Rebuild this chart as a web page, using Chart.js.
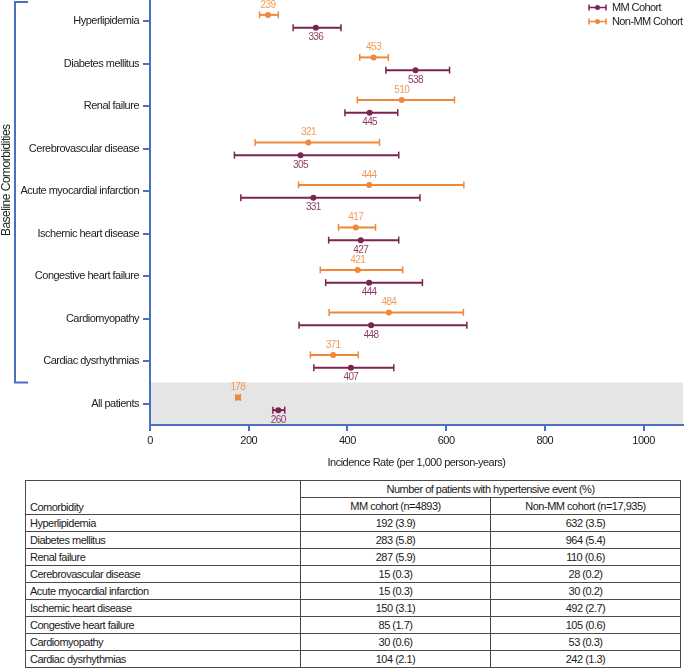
<!DOCTYPE html>
<html>
<head>
<meta charset="utf-8">
<script src="https://cdn.jsdelivr.net/npm/chart.js@4"></script>
<style>
  body { margin: 0; background: #fff; }
  #wrap { position: relative; width: 685px; height: 669px; }
  #chartBox { position: absolute; left: 0; top: 0; width: 685px; height: 470px; }
  #tbl {
    position: absolute; left: 25px; top: 480px; width: 655px;
    border-collapse: collapse; table-layout: fixed;
    font-family: "Liberation Sans", Arial, sans-serif;
    font-size: 11px; letter-spacing: -0.5px; color: #1a1a1a;
  }
  #tbl td { border: 1px solid #4a4a4a; padding: 0 4px; height: 16px; line-height: 14px; white-space: nowrap; }
  #tbl td.c { text-align: center; }
</style>
</head>
<body>
<div id="wrap">
  <div id="chartBox"><canvas id="chart"></canvas></div>
  <table id="tbl">
    <colgroup><col style="width:275px"><col style="width:190px"><col style="width:190px"></colgroup>
  </table>
</div>
<script>
// forest plot: incidence rate with 95% CI
const categories = ["Hyperlipidemia", "Diabetes mellitus", "Renal failure", "Cerebrovascular disease",
  "Acute myocardial infarction", "Ischemic heart disease", "Congestive heart failure",
  "Cardiomyopathy", "Cardiac dysrhythmias", "All patients"];
const seriesNames = ["MM Cohort", "Non-MM Cohort"];
const mmRate = [336, 538, 445, 305, 331, 427, 444, 448, 407, 260];
const mmLow = [290, 478, 395, 171, 184, 362, 356, 302, 332, 249];
const mmHigh = [387, 607, 502, 504, 547, 504, 552, 642, 494, 273];
const nonMmRate = [239, 453, 510, 321, 444, 417, 421, 484, 371, 178];
const nonMmLow = [222, 425, 420, 213, 301, 382, 345, 363, 325, 174];
const nonMmHigh = [260, 483, 617, 465, 636, 457, 512, 635, 422, 183];
const xTicks = [0, 200, 400, 600, 800, 1000];
const xTitle = "Incidence Rate (per 1,000 person-years)";
const yTitle = "Baseline Comorbidities";

// table under the plot
const tableHeader = ["Comorbidity", "Number of patients with hypertensive event (%)", "MM cohort (n=4893)", "Non-MM cohort (n=17,935)"];
const tableRows = categories.slice(0, 9);
const mmEvents = [192, 283, 287, 15, 15, 150, 85, 30, 104];
const mmPct = ["3.9", "5.8", "5.9", "0.3", "0.3", "3.1", "1.7", "0.6", "2.1"];
const nonMmEvents = [632, 964, 110, 28, 30, 492, 105, 53, 242];
const nonMmPct = ["3.5", "5.4", "0.6", "0.2", "0.2", "2.7", "0.6", "0.3", "1.3"];

const FONT = '"Liberation Sans", Arial, sans-serif';
const MM_COLOR = "#7b2352";
const NON_COLOR = "#f0883b";
const BLUE = "#4a70c0";

const allIdx = categories.length - 1;

const errorBars = {
  id: "errorBars",
  beforeDraw(chart) {
    const { ctx, chartArea, scales } = chart;
    ctx.letterSpacing = "-0.5px"; // narrow look for axis text
    const y0 = scales.y.getPixelForValue(allIdx - 0.5);
    ctx.save();
    ctx.fillStyle = "#e5e5e5";
    ctx.fillRect(chartArea.left, y0, chartArea.right - chartArea.left, chartArea.bottom - y0);
    ctx.restore();
  },
  afterDatasetsDraw(chart) {
    const ctx = chart.ctx;
    const xs = chart.scales.x;
    chart.data.datasets.forEach((ds, di) => {
      const meta = chart.getDatasetMeta(di);
      meta.data.forEach((bar, i) => {
        const y = bar.y;
        ctx.save();
        ctx.strokeStyle = ds.backgroundColor;
        ctx.lineWidth = 1.5;
        [bar.base, bar.x].forEach((px) => {
          ctx.beginPath();
          ctx.moveTo(px, y - 3.5);
          ctx.lineTo(px, y + 3.5);
          ctx.stroke();
        });
        const cx = xs.getPixelForValue(ds.rates[i]);
        ctx.fillStyle = ds.backgroundColor;
        ctx.beginPath();
        ctx.arc(cx, y, 3, 0, Math.PI * 2);
        ctx.fill();
        ctx.fillStyle = ds.labelColor;
        ctx.font = "10px " + FONT;
        ctx.letterSpacing = "-0.6px";
        ctx.textAlign = "center";
        ctx.textBaseline = "middle";
        ctx.fillText(String(ds.rates[i]), cx, y + ds.labelSide * 10);
        ctx.restore();
      });
    });
  },
  afterDraw(chart) {
    const { ctx, chartArea, scales } = chart;
    // bracket + title on the left
    const top = Math.max(chartArea.top, 0) + 2;
    const bot = scales.y.getPixelForValue(allIdx - 0.5);
    ctx.save();
    ctx.strokeStyle = BLUE;
    ctx.lineWidth = 2;
    ctx.beginPath();
    ctx.moveTo(28, top);
    ctx.lineTo(15, top);
    ctx.lineTo(15, bot);
    ctx.lineTo(28, bot);
    ctx.stroke();
    ctx.translate(7, (top + bot) / 2 - 12);
    ctx.rotate(-Math.PI / 2);
    ctx.fillStyle = "#222";
    ctx.font = "12px " + FONT;
    ctx.letterSpacing = "-0.5px";
    ctx.textAlign = "center";
    ctx.textBaseline = "middle";
    ctx.fillText(yTitle, 0, 0);
    ctx.restore();

    // legend, top right
    const order = [1, 0];
    order.forEach((di, k) => {
      const ds = chart.data.datasets[di];
      const ly = 7.5 + k * 14;
      const lx = chartArea.right - 94;
      ctx.save();
      ctx.strokeStyle = ds.backgroundColor;
      ctx.fillStyle = ds.backgroundColor;
      ctx.lineWidth = 1.5;
      ctx.beginPath();
      ctx.moveTo(lx, ly); ctx.lineTo(lx + 17, ly);
      ctx.moveTo(lx, ly - 3); ctx.lineTo(lx, ly + 3);
      ctx.moveTo(lx + 17, ly - 3); ctx.lineTo(lx + 17, ly + 3);
      ctx.stroke();
      ctx.beginPath();
      ctx.arc(lx + 8.5, ly, 2.5, 0, Math.PI * 2);
      ctx.fill();
      ctx.fillStyle = "#222";
      ctx.font = "11px " + FONT;
      ctx.letterSpacing = "-0.6px";
      ctx.textAlign = "left";
      ctx.textBaseline = "middle";
      ctx.fillText(ds.label, lx + 23, ly);
      ctx.restore();
    });
  }
};

new Chart(document.getElementById("chart").getContext("2d"), {
  type: "bar",
  data: {
    labels: categories,
    datasets: [
      {
        label: seriesNames[1],
        data: nonMmLow.map((lo, i) => [lo, nonMmHigh[i]]),
        rates: nonMmRate,
        backgroundColor: NON_COLOR,
        labelColor: "#f29a57",
        labelSide: -1,
      },
      {
        label: seriesNames[0],
        data: mmLow.map((lo, i) => [lo, mmHigh[i]]),
        rates: mmRate,
        backgroundColor: MM_COLOR,
        labelColor: "#8e3e63",
        labelSide: 1,
      },
    ],
  },
  options: {
    indexAxis: "y",
    responsive: true,
    maintainAspectRatio: false,
    animation: false,
    datasets: { bar: { maxBarThickness: 2, barPercentage: 1, categoryPercentage: 0.6, borderWidth: 0 } },
    layout: { padding: { top: -4, right: 2, bottom: 0, left: 0 } },
    scales: {
      x: {
        type: "linear",
        min: 0,
        max: 1080,
        afterBuildTicks: (scale) => { scale.ticks = xTicks.map((v) => ({ value: v })); },
        afterFit: (scale) => { scale.height = 45; },
        ticks: { font: { family: FONT, size: 11 }, color: "#222", padding: 3, callback: (v) => String(v) },
        grid: { drawOnChartArea: false, color: BLUE, lineWidth: 2, tickLength: 6 },
        border: { color: BLUE, width: 2 },
        title: { display: true, text: xTitle, font: { family: FONT, size: 11 }, color: "#222", padding: { top: 1, bottom: 0 } },
      },
      y: {
        afterFit: (scale) => {
          scale.width = 150;
          scale.paddingTop = -4;
          scale.paddingBottom = 0;
        },
        ticks: { font: { family: FONT, size: 11 }, color: "#222", padding: 4 },
        grid: { drawOnChartArea: false, color: BLUE, lineWidth: 2, tickLength: 7, offset: false },
        border: { color: BLUE, width: 2 },
      },
    },
    plugins: {
      legend: { display: false },
      tooltip: { enabled: false },
    },
  },
  plugins: [errorBars],
});

// build table
const tbl = document.getElementById("tbl");
let tr = tbl.insertRow();
let td = tr.insertCell();
td.rowSpan = 2;
td.textContent = tableHeader[0];
td.style.verticalAlign = "bottom";
td = tr.insertCell();
td.colSpan = 2;
td.className = "c";
td.textContent = tableHeader[1];
tr = tbl.insertRow();
[tableHeader[2], tableHeader[3]].forEach((t) => {
  const c = tr.insertCell();
  c.className = "c";
  c.textContent = t;
});
tableRows.forEach((name, i) => {
  const r = tbl.insertRow();
  r.insertCell().textContent = name;
  const a = r.insertCell();
  a.className = "c";
  a.textContent = mmEvents[i] + " (" + mmPct[i] + ")";
  const b = r.insertCell();
  b.className = "c";
  b.textContent = nonMmEvents[i] + " (" + nonMmPct[i] + ")";
});
</script>
</body>
</html>
